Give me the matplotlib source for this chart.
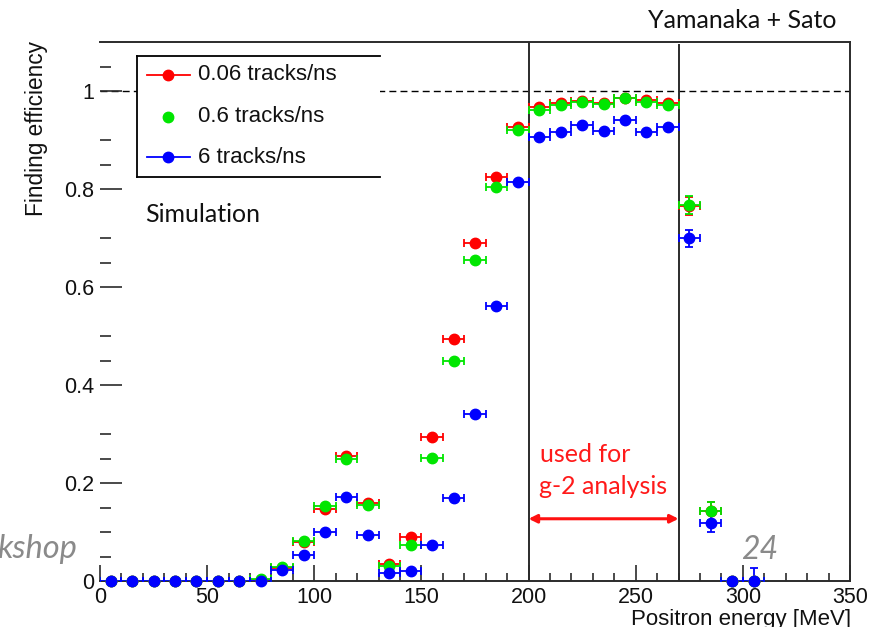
import matplotlib
matplotlib.use("Agg")
import matplotlib.pyplot as plt
from matplotlib.lines import Line2D
from matplotlib.patches import Rectangle

# Bin centres (MeV) and half bin width
energy = [5, 15, 25, 35, 45, 55, 65, 75, 85, 95, 105, 115, 125, 135, 145, 155,
          165, 175, 185, 195, 205, 215, 225, 235, 245, 255, 265, 275, 285, 295, 305]
half_width = 5

# Track-finding efficiency for three pile-up rates
eff_006 = [0, 0, 0, 0, 0, 0, 0, 0.003, 0.026, 0.080, 0.146, 0.256, 0.160, 0.035, 0.090, 0.293,
           0.494, 0.689, 0.825, 0.927, 0.967, 0.976, 0.980, 0.975, 0.985, 0.982, 0.975,
           0.765, 0.143, 0, 0]
eff_06 = [0, 0, 0, 0, 0, 0, 0, 0.005, 0.029, 0.081, 0.153, 0.248, 0.156, 0.031, 0.074, 0.251,
          0.449, 0.655, 0.805, 0.920, 0.961, 0.971, 0.977, 0.973, 0.986, 0.978, 0.971,
          0.768, 0.143, 0, 0]
eff_6 = [0, 0, 0, 0, 0, 0, 0, 0, 0.022, 0.054, 0.101, 0.172, 0.094, 0.016, 0.021, 0.074,
         0.169, 0.341, 0.562, 0.815, 0.907, 0.917, 0.931, 0.918, 0.941, 0.916, 0.926,
         0.699, 0.119, 0, 0]

# Statistical uncertainties on the efficiency
err_006 = [0, 0, 0, 0, 0, 0, 0, 0, 0, 0, 0, 0, 0, 0, 0, 0,
           0, 0, 0, 0, 0, 0, 0, 0, 0, 0, 0, 0.019, 0.019, 0, 0]
err_06 = [0, 0, 0, 0, 0, 0, 0, 0, 0, 0, 0, 0, 0, 0, 0, 0,
          0, 0, 0, 0, 0, 0, 0, 0, 0, 0, 0, 0.018, 0.018, 0, 0]
err_6 = [0, 0, 0, 0, 0, 0, 0, 0, 0, 0, 0, 0, 0, 0, 0, 0,
         0, 0, 0, 0, 0, 0, 0, 0, 0, 0, 0, 0.017, 0.020, 0, 0.027]

labels = ["0.06 tracks/ns", "0.6 tracks/ns", "6 tracks/ns"]
colors = ["#ff0000", "#00e600", "#0000ff"]

window_lo, window_hi = 200, 270
arrow_y = 0.127

W, H = 883, 627
fig = plt.figure(figsize=(W / 100, H / 100), dpi=100)
ax = fig.add_axes([100 / W, 1 - 581 / H, 750 / W, 539 / H])
ax.set_xlim(0, 350)
ax.set_ylim(0, 1.1)

axis_col = "#2b2b2b"

for y, e, c in zip([eff_006, eff_06, eff_6], [err_006, err_06, err_6], colors):
    ax.errorbar(energy, y, xerr=half_width, yerr=e, fmt="none", ecolor=c,
                elinewidth=1.3, capsize=3.2, capthick=1.3, zorder=3)
    ax.plot(energy, y, "o", color=c, markersize=7.5, linestyle="none",
            clip_on=False, zorder=6)

# Reference line at full efficiency and the analysis window
ax.axhline(1.0, color="black", lw=1.0, ls=(0, (5, 3)), zorder=1)
ax.axvline(window_lo, color=axis_col, lw=1.4, zorder=2)
ax.plot([window_hi, window_hi], [0, 1.094], color=axis_col, lw=1.4, zorder=2)
ax.annotate("", xy=(window_lo, arrow_y), xytext=(window_hi, arrow_y),
            arrowprops=dict(arrowstyle="<|-|>", color="#ff1010", lw=2.2,
                            mutation_scale=12, shrinkA=0, shrinkB=0), zorder=4)
fig.text(540 / W, 1 - 462 / H, "used for", color="#ff1a1a", family="Lato",
         fontsize=18, ha="left", va="baseline")
fig.text(539 / W, 1 - 494 / H, "g-2 analysis", color="#ff1a1a", family="Lato",
         fontsize=18, ha="left", va="baseline")

# Axes frame: ROOT-style inward ticks, no visible left axis line
ax.spines["left"].set_visible(False)
for s in ["top", "right", "bottom"]:
    ax.spines[s].set_color(axis_col)
    ax.spines[s].set_linewidth(1.4)

ax.set_xticks([0, 50, 100, 150, 200, 250, 300, 350])
ax.set_xticks([v for v in range(0, 351, 10) if v % 50], minor=True)
ax.set_yticks([0, 0.2, 0.4, 0.6, 0.8, 1.0])
ax.set_yticklabels(["0", "0.2", "0.4", "0.6", "0.8", "1"])
ax.set_yticks([0.05, 0.1, 0.15, 0.25, 0.3, 0.45, 0.5, 0.65, 0.7, 0.85, 0.9, 1.05],
              minor=True)
ax.tick_params(axis="x", which="major", direction="in", length=11.5, width=1.2,
               color=axis_col, pad=4, top=False)
ax.tick_params(axis="x", which="minor", direction="in", length=5.8, width=1.2,
               color=axis_col, top=False)
ax.tick_params(axis="y", which="major", direction="in", length=16, width=1.2,
               color=axis_col, pad=4, right=False)
ax.tick_params(axis="y", which="minor", direction="in", length=8, width=1.2,
               color=axis_col, right=False)
for lab in ax.get_xticklabels() + ax.get_yticklabels():
    lab.set_fontfamily("Liberation Sans")
    lab.set_fontsize(15.5)
    lab.set_color("#111111")

# Legend box
lx0, lx1 = (137 - 100) / 750, (380 - 100) / 750
ly0, ly1 = (581 - 177) / 539, (581 - 56) / 539
ax.add_patch(Rectangle((lx0, ly0), lx1 - lx0, ly1 - ly0, transform=ax.transAxes,
                       facecolor="white", edgecolor="none", zorder=7))
for xs, ys in [([lx0, lx1], [ly1, ly1]), ([lx0, lx1], [ly0, ly0]), ([lx0, lx0], [ly0, ly1])]:
    ax.add_line(Line2D(xs, ys, transform=ax.transAxes, color="black", lw=1.3, zorder=8))
row_y = [(581 - 75) / 539, (581 - 117) / 539, (581 - 157) / 539]
mx = (168 - 100) / 750
for lab, c, ry, with_line in zip(labels, colors, row_y, [True, False, True]):
    if with_line:
        ax.add_line(Line2D([(147 - 100) / 750, (190 - 100) / 750], [ry, ry],
                           transform=ax.transAxes, color=c, lw=1.3, zorder=8))
    ax.add_line(Line2D([mx], [ry], transform=ax.transAxes, color=c, marker="o",
                       markersize=7.5, zorder=9))
    ax.text((198 - 100) / 750, ry, lab, transform=ax.transAxes, fontsize=16,
            family="Liberation Sans", color="#111111", va="center", ha="left", zorder=9)

# Labels and annotations
fig.text(37 / W, 1 - 41 / H, "Finding efficiency", rotation=90, ha="center",
         va="top", fontsize=16.3, family="Liberation Sans", color="#111111")
fig.text(851 / W, 1 - 625 / H, "Positron energy [MeV]", ha="right", va="baseline",
         fontsize=16, family="Liberation Sans", color="#111111")
fig.text(145 / W, 1 - 222 / H, "Simulation", ha="left", va="baseline",
         fontsize=18, family="Lato", color="#111111")
fig.text(836 / W, 1 - 28 / H, "Yamanaka + Sato", ha="right", va="baseline",
         fontsize=18, family="Lato", color="#111111")
fig.text(-3 / W, 1 - 558 / H, "kshop", ha="left", va="baseline", fontsize=23.5,
         family="Lato", style="italic", color="#8a8a8a")
fig.text(778 / W, 1 - 559 / H, "24", ha="right", va="baseline", fontsize=23,
         family="Lato", style="italic", color="#8a8a8a")

fig.savefig("out.png", dpi=100)
